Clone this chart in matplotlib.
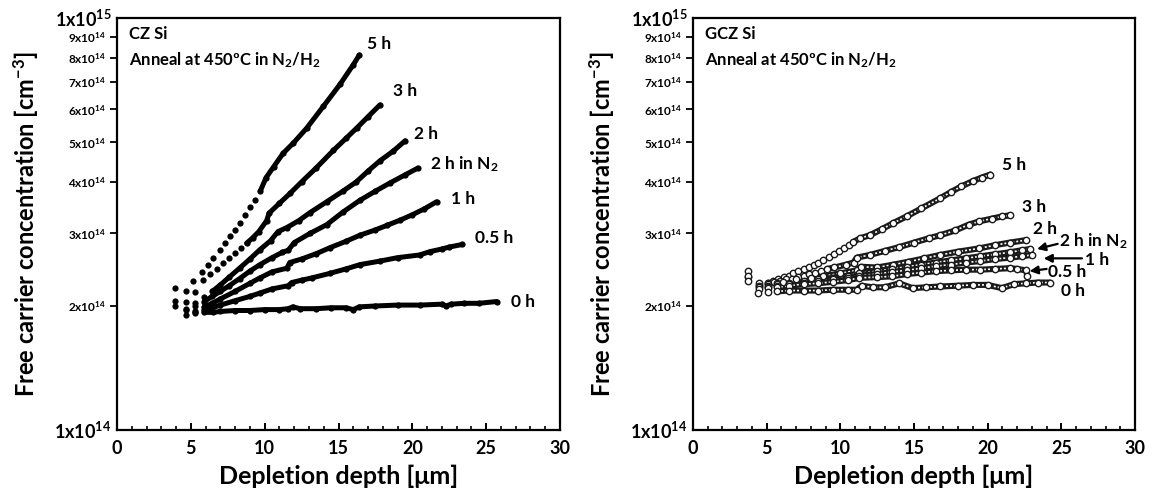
import matplotlib
matplotlib.use("Agg")
import matplotlib.pyplot as plt
from matplotlib.ticker import FixedLocator, FixedFormatter, MultipleLocator
import numpy as np

plt.rcParams['font.family'] = ['Lato', 'DejaVu Sans']
plt.rcParams['font.weight'] = 'bold'
plt.rcParams['mathtext.fontset'] = 'custom'
plt.rcParams['mathtext.rm'] = 'Lato:bold'
plt.rcParams['mathtext.it'] = 'Lato:bold'
plt.rcParams['mathtext.bf'] = 'Lato:bold'
plt.rcParams['mathtext.default'] = 'rm'

# ---------------- data (y in units of 1e14 cm^-3, x in um) ----------------
# CZ Si
cz_5h_x = [3.93, 4.65, 5.17, 5.73, 6.15, 6.52, 6.97, 7.3, 7.65, 8.0, 8.33, 8.65, 9.0, 9.35, 9.7,
           10.1, 10.6, 11.26, 11.94, 12.84, 13.97, 15.1, 16.0, 16.41]
cz_5h_y = [2.21, 2.17, 2.30, 2.42, 2.52, 2.61, 2.74, 2.84, 2.95, 3.06, 3.18, 3.32, 3.48, 3.62, 3.80,
           4.10, 4.35, 4.70, 4.97, 5.40, 6.10, 6.90, 7.70, 8.13]
cz_3h_x = [3.95, 4.7, 5.3, 5.84, 6.3, 6.75, 7.2, 7.6, 8.0, 8.4, 8.78, 9.2, 9.6, 10.13, 10.3,
           11.0, 11.71, 12.5, 13.5, 14.65, 15.5, 16.22, 17.0, 17.8]
cz_3h_y = [2.06, 2.04, 2.16, 2.31, 2.39, 2.46, 2.54, 2.61, 2.69, 2.76, 2.84, 2.93, 3.03, 3.22, 3.36,
           3.55, 3.75, 4.00, 4.33, 4.77, 5.10, 5.40, 5.76, 6.15]
cz_2h_x = [3.95, 4.7, 5.3, 5.9, 6.45, 7.0, 7.6, 8.3, 9.0, 9.68, 10.4, 10.9, 11.5, 12.3, 13.07,
           14.2, 15.3, 16.2, 17.0, 17.8, 18.7, 19.5]
cz_2h_y = [2.00, 1.97, 2.03, 2.10, 2.17, 2.25, 2.35, 2.47, 2.60, 2.74, 2.88, 3.03, 3.10, 3.22, 3.37,
           3.58, 3.80, 4.00, 4.25, 4.50, 4.75, 5.03]
cz_2hn2_x = [4.7, 5.3, 5.9, 6.45, 7.0, 7.6, 8.3, 9.0, 9.68, 10.5, 11.2, 11.6, 12.0, 13.07, 14.2,
             15.3, 16.45, 17.5, 18.5, 19.5, 20.36]
cz_2hn2_y = [1.96, 2.00, 2.05, 2.11, 2.17, 2.24, 2.33, 2.43, 2.52, 2.62, 2.70, 2.73, 2.85, 3.00, 3.15,
             3.38, 3.61, 3.80, 3.98, 4.16, 4.32]
cz_1h_x = [5.3, 5.9, 6.45, 7.0, 8.0, 9.0, 9.68, 10.5, 11.5, 11.7, 12.5, 13.5, 14.42, 15.5, 16.45,
           17.5, 18.3, 19.16, 20.0, 20.8, 21.64]
cz_1h_y = [1.95, 1.99, 2.03, 2.08, 2.17, 2.27, 2.34, 2.42, 2.47, 2.55, 2.60, 2.68, 2.77, 2.87, 2.97,
           3.06, 3.14, 3.23, 3.33, 3.44, 3.58]
cz_05h_x = [5.3, 5.9, 6.45, 7.0, 8.0, 9.0, 9.68, 10.5, 11.6, 11.83, 12.5, 13.2, 14.42, 15.5, 16.45,
            17.8, 19.0, 20.5, 21.19, 22.0, 22.5, 23.37]
cz_05h_y = [1.93, 1.96, 1.98, 2.01, 2.06, 2.11, 2.15, 2.20, 2.24, 2.28, 2.31, 2.34, 2.40, 2.46, 2.52,
            2.57, 2.62, 2.66, 2.71, 2.75, 2.78, 2.82]
cz_0h_x = [4.7, 5.3, 5.9, 6.5, 7.0, 8.0, 9.0, 10.0, 11.0, 11.6, 11.9, 12.4, 13.5, 14.5, 15.5, 16.0,
           16.4, 17.5, 19.0, 20.5, 22.0, 22.3, 22.6, 23.5, 24.5, 25.7]
cz_0h_y = [1.90, 1.92, 1.93, 1.93, 1.94, 1.95, 1.95, 1.96, 1.96, 1.97, 1.99, 1.97, 1.97, 1.98, 1.98,
           1.96, 1.99, 2.00, 2.01, 2.01, 2.02, 2.00, 2.02, 2.03, 2.03, 2.05]

# GCZ Si
gcz_5h_x = [3.73, 3.75, 4.47, 5.08, 5.45, 5.8, 6.15, 6.5, 6.81, 7.15, 7.5, 7.85, 8.2, 8.5, 8.85,
            9.2, 9.55, 9.9, 10.25, 10.6, 10.88, 11.34, 12.0, 12.8, 13.6, 14.5, 15.5, 16.77, 17.5,
            18.2, 19.0, 19.6, 20.18]
gcz_5h_y = [2.43, 2.35, 2.25, 2.28, 2.30, 2.32, 2.35, 2.37, 2.40, 2.43, 2.46, 2.49, 2.52, 2.55, 2.59,
            2.63, 2.67, 2.72, 2.76, 2.81, 2.86, 2.92, 2.97, 3.07, 3.18, 3.30, 3.45, 3.65, 3.78,
            3.90, 4.02, 4.10, 4.17]
gcz_3h_x = [3.73, 4.47, 5.08, 5.5, 5.9, 6.3, 6.7, 7.1, 7.5, 7.9, 8.3, 8.7, 9.1, 9.6, 10.4, 10.9,
            11.11, 12.0, 13.0, 14.0, 15.0, 16.0, 16.77, 17.8, 18.7, 19.44, 20.3, 21.0, 21.53]
gcz_3h_y = [2.36, 2.27, 2.28, 2.29, 2.30, 2.32, 2.33, 2.35, 2.37, 2.39, 2.41, 2.43, 2.46, 2.48, 2.52,
            2.55, 2.62, 2.66, 2.72, 2.78, 2.85, 2.92, 2.97, 3.05, 3.15, 3.21, 3.26, 3.30, 3.32]
gcz_2h_x = [3.73, 4.47, 5.08, 5.7, 6.13, 7.0, 8.0, 8.85, 10.0, 11.11, 11.4, 12.5, 13.6, 14.6, 15.7,
            16.77, 18.0, 19.44, 20.5, 21.5, 22.6]
gcz_2h_y = [2.30, 2.24, 2.26, 2.28, 2.29, 2.32, 2.34, 2.36, 2.40, 2.44, 2.49, 2.48, 2.52, 2.56, 2.61,
            2.66, 2.71, 2.76, 2.81, 2.85, 2.89]
gcz_2hn2_x = [4.47, 5.08, 5.7, 6.5, 7.5, 8.5, 9.5, 10.5, 11.3, 12.5, 13.5, 14.5, 15.5, 16.5, 17.5,
              18.5, 19.5, 20.5, 21.5, 22.3, 22.9]
gcz_2hn2_y = [2.22, 2.24, 2.26, 2.28, 2.30, 2.32, 2.34, 2.37, 2.40, 2.43, 2.46, 2.49, 2.52, 2.55, 2.58,
              2.61, 2.64, 2.67, 2.70, 2.73, 2.75]
gcz_1h_x = [4.47, 5.08, 5.7, 6.5, 7.5, 8.5, 9.5, 10.5, 11.3, 12.5, 13.5, 14.5, 15.5, 16.5, 17.5,
            18.5, 19.5, 20.5, 21.5, 22.3, 23.0]
gcz_1h_y = [2.20, 2.22, 2.24, 2.26, 2.28, 2.30, 2.32, 2.34, 2.37, 2.39, 2.42, 2.44, 2.47, 2.50, 2.52,
            2.55, 2.57, 2.60, 2.62, 2.64, 2.66]
gcz_05h_x = [5.08, 5.7, 6.5, 7.5, 8.5, 9.5, 10.5, 11.3, 12.5, 13.5, 14.5, 15.5, 16.5, 17.5, 18.5,
             19.5, 20.5, 21.5, 22.0, 22.6, 22.7]
gcz_05h_y = [2.21, 2.22, 2.24, 2.26, 2.27, 2.29, 2.31, 2.34, 2.35, 2.36, 2.39, 2.41, 2.43, 2.44, 2.45,
             2.45, 2.46, 2.47, 2.46, 2.44, 2.36]
gcz_0h_x = [4.43, 5.1, 5.7, 6.5, 7.5, 8.5, 9.5, 10.5, 11.1, 11.45, 12.2, 13.0, 14.0, 14.9, 15.8,
            16.77, 18.0, 19.0, 20.0, 20.96, 21.8, 22.6, 23.4, 24.24]
gcz_0h_y = [2.15, 2.16, 2.17, 2.18, 2.18, 2.18, 2.19, 2.19, 2.19, 2.24, 2.22, 2.22, 2.27, 2.21, 2.22,
            2.23, 2.24, 2.25, 2.25, 2.21, 2.26, 2.27, 2.28, 2.28]

series_names = ['5 h', '3 h', '2 h', '2 h in N$_2$', '1 h', '0.5 h', '0 h']
cz_x = [cz_5h_x, cz_3h_x, cz_2h_x, cz_2hn2_x, cz_1h_x, cz_05h_x, cz_0h_x]
cz_y = [cz_5h_y, cz_3h_y, cz_2h_y, cz_2hn2_y, cz_1h_y, cz_05h_y, cz_0h_y]
gcz_x = [gcz_5h_x, gcz_3h_x, gcz_2h_x, gcz_2hn2_x, gcz_1h_x, gcz_05h_x, gcz_0h_x]
gcz_y = [gcz_5h_y, gcz_3h_y, gcz_2h_y, gcz_2hn2_y, gcz_1h_y, gcz_05h_y, gcz_0h_y]

# where the measured points become so dense they merge into a continuous band
cz_dense_from = [10.0, 9.0, 7.0, 6.4, 6.4, 6.4, 6.4]
gcz_dense_from = [11.3, 9.5, 6.0, 6.0, 6.0, 6.0, 6.0]

# label positions (x in um, y in 1e14)
cz_lab_x = [16.9, 18.7, 20.1, 21.2, 22.6, 24.25, 26.7]
cz_lab_y = [8.65, 6.64, 5.24, 4.43, 3.64, 2.93, 2.05]
gcz_lab_x = [21.0, 22.3, 23.1, 24.85, 26.6, 24.1, 25.0]
gcz_lab_y = [4.39, 3.48, 3.07, 2.87, 2.58, 2.42, 2.17]
# arrows (tail -> tip) for the crowded GCZ labels: index -> (x_tail, y_tail, x_tip, y_tip)
gcz_arrows = {3: (24.75, 2.83, 23.35, 2.75), 4: (26.4, 2.61, 23.8, 2.61), 5: (24.0, 2.46, 22.85, 2.43)}

yminor = [2, 3, 4, 5, 6, 7, 8, 9]
E14 = 1e14

fig = plt.figure(figsize=(11.49, 4.92), dpi=100)
ax1 = fig.add_axes([117/1149, 1-430/492, 443/1149, 412/492])
ax2 = fig.add_axes([693/1149, 1-430/492, 442/1149, 412/492])


def style_axes(ax):
    ax.set_yscale('log')
    ax.set_xlim(0, 30)
    ax.set_ylim(1e14, 1e15)
    for s in ax.spines.values():
        s.set_linewidth(1.6)
    ax.xaxis.set_major_locator(MultipleLocator(5))
    ax.xaxis.set_minor_locator(MultipleLocator(1))
    ax.tick_params(axis='x', which='major', direction='in', length=5, width=1.4,
                   labelsize=13, pad=7, top=False)
    ax.tick_params(axis='x', which='minor', direction='in', length=3, width=1.2, top=False)
    ax.yaxis.set_major_locator(FixedLocator([1e14, 1e15]))
    ax.yaxis.set_major_formatter(FixedFormatter(['1x10$^{14}$', '1x10$^{15}$']))
    ax.yaxis.set_minor_locator(FixedLocator([v * E14 for v in yminor]))
    ax.yaxis.set_minor_formatter(FixedFormatter(['%dx10$^{14}$' % v for v in yminor]))
    ax.tick_params(axis='y', which='major', direction='out', length=0, labelsize=13, pad=4, right=False)
    ax.tick_params(axis='y', which='minor', direction='out', length=5, width=1.3, labelsize=8.5, pad=3,
                   right=False)
    ax.set_xlabel('Depletion depth [μm]', fontsize=18, fontweight='bold')
    ax.set_ylabel('Free carrier concentration [cm$^{-3}$]', fontsize=17, fontweight='bold')
    ax.xaxis.set_label_coords(0.5, -0.085)
    ax.yaxis.set_label_coords(-0.172, 0.5)


style_axes(ax1)
style_axes(ax2)

# CZ: filled black dots
for xs, ys, xd in zip(cz_x, cz_y, cz_dense_from):
    xs = np.asarray(xs)
    ys = np.asarray(ys) * E14
    i0 = max(int(np.argmax(xs >= xd)) - 1, 0)
    ax1.plot(xs[i0:], ys[i0:], '-', color='black', lw=3.6, solid_capstyle='round', zorder=3)
    ax1.plot(xs, ys, 'o', color='black', ms=4.5, mew=0, zorder=4)

# GCZ: open circles
for xs, ys, xd in zip(gcz_x, gcz_y, gcz_dense_from):
    xs = np.asarray(xs)
    ys = np.asarray(ys) * E14
    i0 = max(int(np.argmax(xs >= xd)) - 1, 0)
    ax2.plot(xs[i0:], ys[i0:], '-', color='#1a1a1a', lw=4.4, solid_capstyle='round', zorder=3)
    ax2.plot(xs[i0:], ys[i0:], color='white', lw=1.2, ls=(0, (1.2, 1.2)), zorder=3)
    ax2.plot(xs, ys, 'o', mfc='white', mec='#1a1a1a', ms=4.6, mew=1.0, zorder=4)

for name, lx, ly in zip(series_names, cz_lab_x, cz_lab_y):
    ax1.text(lx, ly * E14, name, fontsize=12.5, fontweight='bold', ha='left', va='center')
for i, (name, lx, ly) in enumerate(zip(series_names, gcz_lab_x, gcz_lab_y)):
    ax2.text(lx, ly * E14, name, fontsize=12.5, fontweight='bold', ha='left', va='center', zorder=6)
    if i in gcz_arrows:
        xt, yt, xh, yh = gcz_arrows[i]
        ax2.annotate('', xy=(xh, yh * E14), xytext=(xt, yt * E14),
                     arrowprops=dict(arrowstyle='-|>', color='black', lw=1.6,
                                     mutation_scale=12, shrinkA=0, shrinkB=0), zorder=6)

for ax, name in ((ax1, 'CZ Si'), (ax2, 'GCZ Si')):
    ax.text(0.8, 9.15 * E14, name, fontsize=12, fontweight='bold', ha='left', va='center')
    ax.text(0.8, 7.88 * E14, 'Anneal at 450ºC in N$_2$/H$_2$', fontsize=12, fontweight='bold',
            ha='left', va='center')

fig.savefig('out.png', dpi=100)
